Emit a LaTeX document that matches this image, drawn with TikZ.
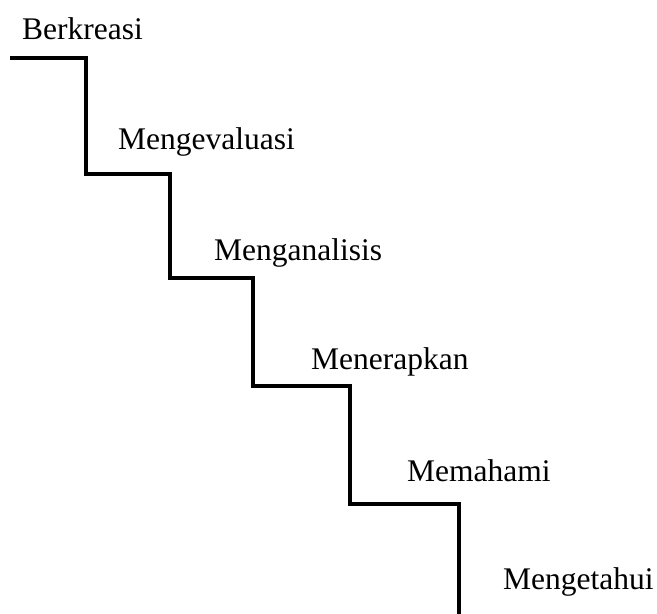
\documentclass[tikz,border=0pt]{standalone}
\usepackage{fontspec}
\setmainfont{Liberation Serif}
\begin{document}
\begin{tikzpicture}[x=1pt,y=-1pt,
  lbl/.style={anchor=base west,inner sep=0pt,font=\fontsize{31.5}{38}\selectfont},
  stair/.style={line width=3.5pt,line join=miter,line cap=butt}]
\useasboundingbox (0,0) rectangle (657,614);
\node[lbl] (l1) at (22,39) {Berkreasi};
\node[lbl] (l2) at (118,149) {Mengevaluasi};
\node[lbl] (l3) at (214,260) {Menganalisis};
\node[lbl] (l4) at (311,369) {Menerapkan};
\node[lbl] (l5) at (407,481) {Memahami};
\node[lbl] (l6) at (503,589) {Mengetahui};
\coordinate (s0) at (10,58);
\coordinate (s1) at (86,58);
\coordinate (s2) at (86,174);
\coordinate (s3) at (170,174);
\coordinate (s4) at (170,278);
\coordinate (s5) at (253,278);
\coordinate (s6) at (253,386);
\coordinate (s7) at (350,386);
\coordinate (s8) at (350,504);
\coordinate (s9) at (459,504);
\coordinate (s10) at (459,614);
\draw[stair] (s0) -- (s1) -- (s2) -- (s3) -- (s4) -- (s5) -- (s6) -- (s7) -- (s8) -- (s9) -- (s10);
\end{tikzpicture}
\end{document}
